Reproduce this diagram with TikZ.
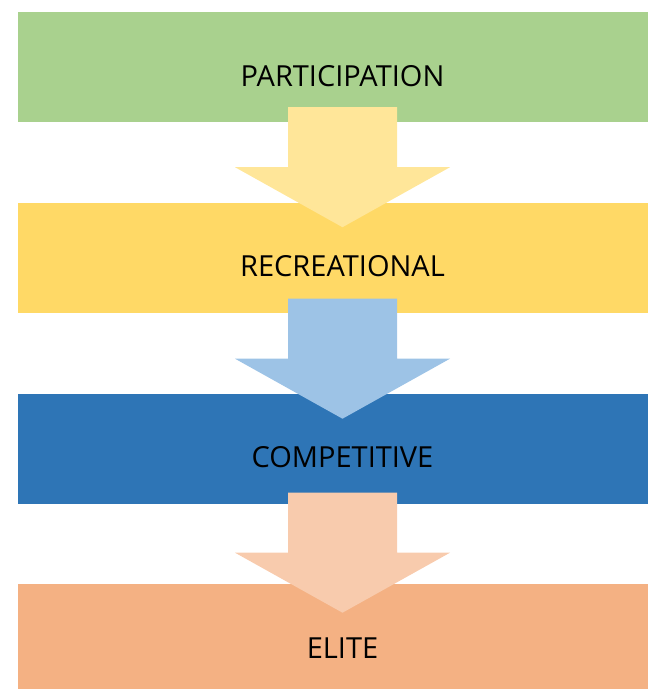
\documentclass[tikz,border=0pt]{standalone}
\usepackage{fontspec}
\setmainfont{Open Sans}
\usepackage{xcolor}

\definecolor{partgreen}{HTML}{A9D18E}
\definecolor{recyellow}{HTML}{FFD966}
\definecolor{recarrow}{HTML}{FFE699}
\definecolor{compblue}{HTML}{2E75B6}
\definecolor{comparrow}{HTML}{9DC3E6}
\definecolor{eliteorange}{HTML}{F4B183}
\definecolor{elitearrow}{HTML}{F8CBAD}

\begin{document}
\begin{tikzpicture}[x=1pt,y=-1pt]

		\tikzset{level/.style = {shape=rectangle,minimum width=649pt,minimum height=110pt,inner sep=0pt,
				text height=38.5pt,text depth=0pt,font=\fontsize{29}{31}\selectfont}}

		\path[use as bounding box,clip] (0,0) rectangle (648,689);

		\node[level,fill=partgreen] (P) at (342.5,67) {PARTICIPATION};
		\node[level,fill=recyellow] (R) at (342.5,257.5) {RECREATIONAL};
		\node[level,fill=compblue] (C) at (342.5,448.5) {COMPETITIVE};
		\node[level,fill=eliteorange] (E) at (342.5,639) {ELITE};

		% block arrows between the levels
		\coordinate (PR) at ([yshift=15pt]P.south);
		\coordinate (RC) at ([yshift=14pt]R.south);
		\coordinate (CE) at ([yshift=11pt]C.south);

		\fill[recarrow] (PR) ++(-54.5,0) -- ++(109,0) -- ++(0,60) -- ++(53,0) -- ++(-107.5,60) -- ++(-107.5,-60) -- ++(53,0) -- cycle;
		\fill[comparrow] (RC) ++(-54.5,0) -- ++(109,0) -- ++(0,60) -- ++(53,0) -- ++(-107.5,60) -- ++(-107.5,-60) -- ++(53,0) -- cycle;
		\fill[elitearrow] (CE) ++(-54.5,0) -- ++(109,0) -- ++(0,60) -- ++(53,0) -- ++(-107.5,60) -- ++(-107.5,-60) -- ++(53,0) -- cycle;

\end{tikzpicture}
\end{document}
